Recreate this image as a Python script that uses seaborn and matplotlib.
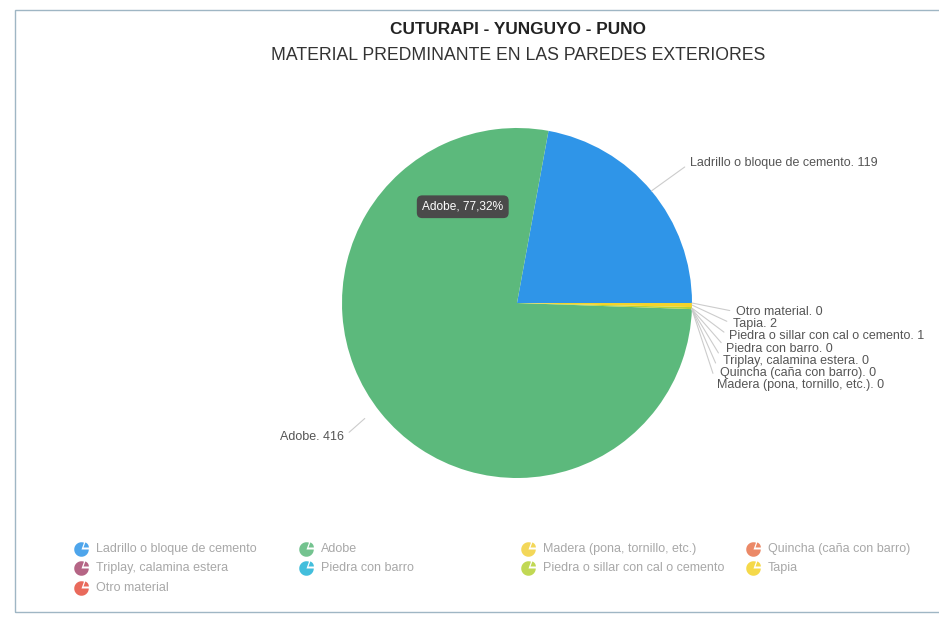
import numpy as np
import seaborn as sns
import matplotlib
matplotlib.use("Agg")
import matplotlib.pyplot as plt
from matplotlib.path import Path
from matplotlib.patches import Rectangle

# data
categories = ["Ladrillo o bloque de cemento", "Adobe", "Madera (pona, tornillo, etc.)",
              "Quincha (caña con barro)", "Triplay, calamina estera", "Piedra con barro",
              "Piedra o sillar con cal o cemento", "Tapia", "Otro material"]
counts = [119, 416, 0, 0, 0, 0, 1, 2, 0]
colors = ["#2f95e8", "#5cb97c", "#f2d13c", "#e8744c", "#a84a70", "#22b3d6",
          "#b6d236", "#f4d32a", "#e6503f"]

sns.set_theme(style="white")
plt.rcParams["font.family"] = ["Liberation Sans", "DejaVu Sans"]

W, H = 939, 623
fig = plt.figure(figsize=(W / 100, H / 100), dpi=100)
fig.patch.set_facecolor("white")

# chart frame
fig.add_artist(Rectangle((15 / W, 1 - 612 / H), 1, (612 - 10) / H, transform=fig.transFigure,
                         fill=False, edgecolor="#9fb6c4", linewidth=1.0))

fig.text(518 / W, 1 - 30 / H, "CUTURAPI - YUNGUYO - PUNO", ha="center", va="center",
         fontsize=12.4, fontweight="bold", color="#222222")
fig.text(518 / W, 1 - 55 / H, "MATERIAL PREDMINANTE EN LAS PAREDES EXTERIORES",
         ha="center", va="center", fontsize=12.7, color="#333333")

# pie axes, centre (517, 303) px, radius 175 px
cx, cy, r = 517, 303, 175
ax = fig.add_axes([(cx - r) / W, (H - cy - r) / H, 2 * r / W, 2 * r / H])
palette = sns.color_palette(colors)
wedges, _ = ax.pie(counts, colors=palette, startangle=0, counterclock=True,
                   radius=1.0, wedgeprops=dict(linewidth=0))
ax.set_xlim(-1, 1)
ax.set_ylim(-1, 1)
ax.set_aspect("equal")
ax.axis("off")

total = sum(counts)
line_kw = dict(arrowstyle="-", color="#cccccc", lw=0.8, shrinkA=2, shrinkB=0)
txt_kw = dict(fontsize=9, color="#555555", va="center")


def mid_angle(w):
    return np.deg2rad((w.theta1 + w.theta2) / 2)


a = mid_angle(wedges[0])
ax.annotate(f"{categories[0]}. {counts[0]}", xy=(np.cos(a), np.sin(a)),
            xytext=(0.99, 0.80), ha="left", annotation_clip=False,
            arrowprops=dict(relpos=(0, 0.5), **line_kw), **txt_kw)
ax.annotate(f"{categories[1]}. {counts[1]}", xy=(-0.87, -0.66),
            xytext=(-0.99, -0.766), ha="right", annotation_clip=False,
            arrowprops=dict(relpos=(1, 0.5), **line_kw), **txt_kw)

# small slices fanned out on the right, top to bottom
small = [8, 7, 6, 5, 4, 3, 2]
for i, k in enumerate(small):
    a = mid_angle(wedges[k])
    tx, ty = 1.25 - i * 0.018, -0.05 - i * 0.07
    ax.annotate(f"{categories[k]}. {counts[k]}", xy=(np.cos(a), np.sin(a)),
                xytext=(tx, ty), ha="left", annotation_clip=False,
                arrowprops=dict(relpos=(0, 0.5), **line_kw), **txt_kw)

# tooltip
pct = counts[1] / total * 100
ax.text(-0.31, 0.55, f"Adobe, {pct:.2f}%".replace(".", ","), ha="center", va="center",
        fontsize=8.6, color="white",
        bbox=dict(boxstyle="round,pad=0.45", fc="#4a4a4a", ec="none"))

# legend (row-major, 4 columns)
lax = fig.add_axes([0, 0, 1, 1], zorder=-1)
lax.set_xlim(0, W)
lax.set_ylim(H, 0)
lax.axis("off")
big = Path.wedge(70, 360)
bite = Path.wedge(0, 70)
col_x = [81, 306, 528, 753]
row_y = [549, 568, 588]
for i, (name, c) in enumerate(zip(categories, palette)):
    x, y = col_x[i % 4], row_y[i // 4]
    lax.scatter([x], [y], marker=big, s=110, color=c, alpha=0.85, linewidths=0)
    lax.scatter([x + 2], [y - 2], marker=bite, s=60, color=c, alpha=0.85, linewidths=0)
    lax.text(x + 15, y, name, fontsize=9, color="#a8a8a8", va="center", ha="left")

fig.savefig("out.png", dpi=100)
